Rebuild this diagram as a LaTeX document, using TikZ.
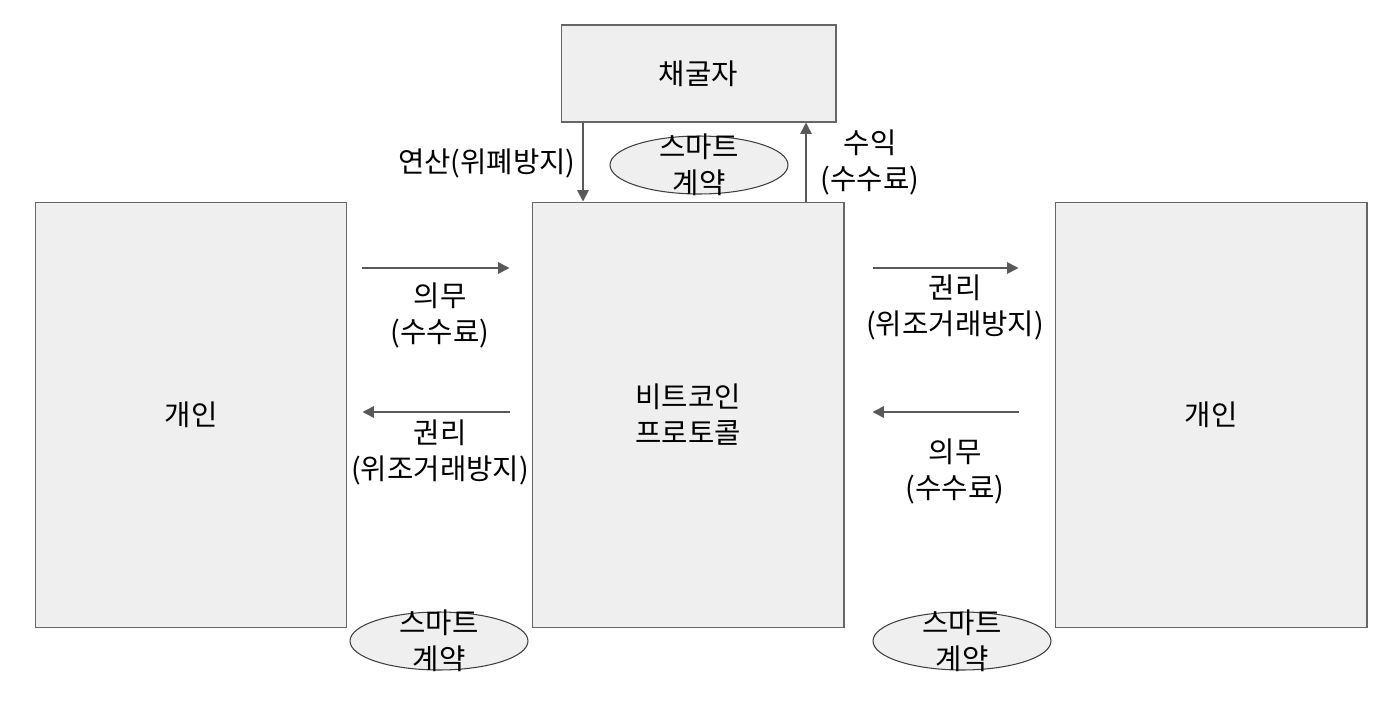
\documentclass[tikz,border=0pt]{standalone}
\usepackage{fontspec}
\setmainfont{Noto Sans CJK KR}
\usetikzlibrary{positioning,arrows.meta,shapes.geometric}
\definecolor{boxfill}{HTML}{EFEFEF}
\definecolor{boxline}{HTML}{666666}
\definecolor{arrline}{HTML}{595959}

\begin{document}
\begin{tikzpicture}[
  x=0.02cm, y=-0.02cm,
  font=\fontsize{16.3}{20.5}\selectfont,
  box/.style={rectangle, draw=boxline, line width=0.6pt, fill=boxfill, inner sep=0pt},
  pact/.style={ellipse, draw=black!75, line width=0.6pt, fill=boxfill, minimum width=3.56cm, minimum height=1.16cm, inner sep=0pt},
  lbl/.style={align=center, inner sep=0pt},
  arr/.style={-{Triangle[length=6.5pt, width=6.5pt]}, draw=arrline, line width=0.9pt}
]
\useasboundingbox (0,0) rectangle (1400,703);

\node[box, minimum width=5.5cm, minimum height=1.94cm] (miner) at (698.5, 73.5) {채굴자};
\node[box, minimum width=6.24cm, minimum height=8.52cm] (left)  at (191, 415)  {개인};
\node[box, minimum width=6.24cm, minimum height=8.52cm, align=center] (proto) at (688, 415) {비트코인\\프로토콜};
\node[box, minimum width=6.24cm, minimum height=8.52cm] (right) at (1211, 415) {개인};

\node[pact, label={[lbl]center:스마트\\계약}] (pactT) at (699, 165) {};
\node[pact, label={[lbl]center:스마트\\계약}] (pactL) at (439, 641) {};
\node[pact, label={[lbl]center:스마트\\계약}] (pactR) at (962, 641) {};

\coordinate (dn) at (583, 0);
\coordinate (up) at (806, 0);
\coordinate (top) at (0, 268);
\coordinate (bot) at (0, 412);

\draw[arr] (miner.south -| dn) -- (proto.north -| dn);
\draw[arr] (proto.north -| up) -- (miner.south -| up);
\draw[arr, shorten <=0.3cm, shorten >=0.44cm] (left.east |- top) -- (proto.west |- top);
\draw[arr, shorten <=0.44cm, shorten >=0.3cm] (proto.west |- bot) -- (left.east |- bot);
\draw[arr, shorten <=0.56cm, shorten >=0.72cm] (proto.east |- top) -- (right.west |- top);
\draw[arr, shorten <=0.72cm, shorten >=0.56cm] (right.west |- bot) -- (proto.east |- bot);

\node[lbl, anchor=east] (calc) at (576, 163) {연산(위폐방지)};
\node[lbl] (gain) at (870, 162) {수익\\(수수료)};
\node[lbl] (dutyL) at (440, 315) {의무\\(수수료)};
\node[lbl] (rightL) at (440, 452) {권리\\(위조거래방지)};
\node[lbl] (rightR) at (955, 307) {권리\\(위조거래방지)};
\node[lbl] (dutyR) at (955, 471) {의무\\(수수료)};
\end{tikzpicture}
\end{document}
